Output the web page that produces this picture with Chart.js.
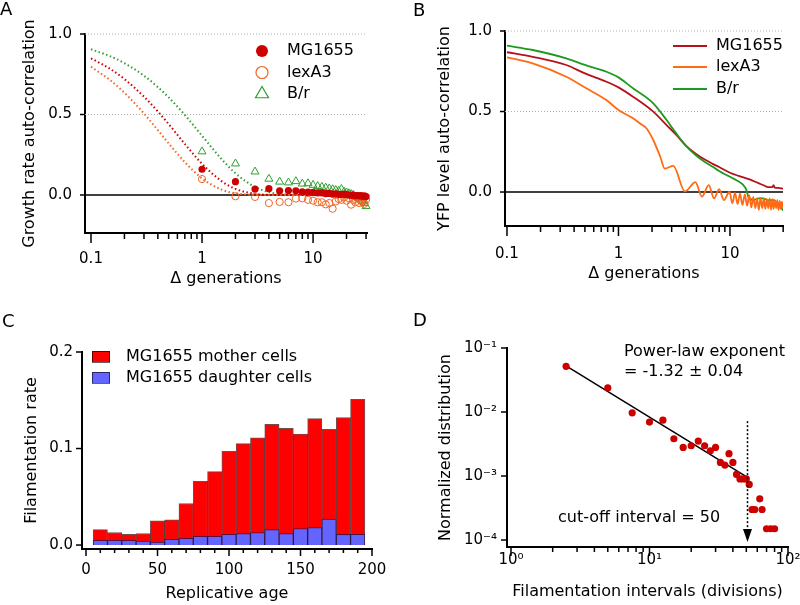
<!DOCTYPE html>
<html>
<head>
<meta charset="utf-8">
<script src="https://cdn.jsdelivr.net/npm/chart.js@4.4.1/dist/chart.umd.min.js"></script>
<style>
  html, body { margin: 0; padding: 0; background: #fff; }
  #wrap { position: relative; width: 800px; height: 605px; }
  canvas { position: absolute; }
</style>
</head>
<body>
<div id="wrap">
  <canvas id="chartA" width="400" height="300" style="left:0;top:0"></canvas>
  <canvas id="chartB" width="400" height="300" style="left:400px;top:0"></canvas>
  <canvas id="chartC" width="400" height="305" style="left:0;top:300px"></canvas>
  <canvas id="chartD" width="400" height="305" style="left:400px;top:300px"></canvas>
</div>
<script>
// PANEL A - growth rate auto-correlation (points + fitted curves)
const aGen = [1, 2, 3, 4, 5, 6, 7, 8, 9, 10, 11, 12, 13, 14, 15, 16, 17, 18, 19, 20, 21, 22, 23, 24, 25, 26, 27, 28, 29, 30];
const aMG1655 = [0.16, 0.083, 0.037, 0.039, 0.026, 0.028, 0.026, 0.02, 0.018, 0.016, 0.013, 0.013, 0.009, 0.01, 0.006, 0.007, 0.004, 0.003, 0.005, 0.002, 0.0, -0.002, 0.0, -0.004, -0.003, -0.006, -0.004, -0.008, -0.005, -0.01];
const aLexA3 = [0.099, -0.008, -0.012, -0.05, -0.043, -0.045, -0.022, -0.02, -0.03, -0.035, -0.045, -0.045, -0.058, -0.05, -0.085, -0.04, -0.025, -0.03, -0.015, -0.035, -0.02, -0.06, -0.03, -0.045, -0.02, -0.05, -0.035, -0.04, -0.055, -0.03];
const aBr = [0.27, 0.195, 0.145, 0.1, 0.082, 0.077, 0.085, 0.07, 0.072, 0.062, 0.055, 0.05, 0.045, 0.04, 0.035, 0.03, 0.025, 0.037, 0.02, 0.015, 0.01, 0.005, 0.0, -0.01, -0.015, -0.02, -0.03, -0.04, -0.05, -0.07];

const aFitGen = [0.1, 0.15, 0.2, 0.3, 0.4, 0.5, 0.7, 1, 1.5, 2, 3, 4, 5, 7, 10, 20, 30];
const aFitMG1655 = [0.849, 0.782, 0.72, 0.611, 0.519, 0.441, 0.317, 0.194, 0.086, 0.038, 0.007, 0.001, 0, 0, 0, 0, 0];
const aFitLexA3 = [0.797, 0.711, 0.635, 0.506, 0.403, 0.321, 0.204, 0.103, 0.033, 0.011, 0.001, 0, 0, 0, 0, 0, 0];
const aFitBr = [0.905, 0.861, 0.819, 0.741, 0.67, 0.607, 0.497, 0.368, 0.223, 0.135, 0.05, 0.018, 0.007, 0.001, 0, 0, 0];

// PANEL B - YFP level auto-correlation
const bGenMG1655 = [0.1, 0.17, 0.34, 0.5, 0.78, 1, 1.35, 2.05, 2.7, 3.3, 4, 5, 6, 7, 8, 10, 12, 15, 18, 20, 22, 24, 24.6, 25.2, 27, 30];
const bMG1655 = [0.868, 0.84, 0.789, 0.737, 0.685, 0.65, 0.592, 0.499, 0.416, 0.355, 0.29, 0.235, 0.2, 0.175, 0.155, 0.12, 0.1, 0.078, 0.055, 0.042, 0.03, 0.03, 0.043, 0.028, 0.026, 0.02];
const bGenLexA3 = [0.1, 0.17, 0.34, 0.515, 0.78, 1, 1.35, 1.55, 1.78, 2.05, 2.37, 2.6, 3.1, 3.95, 4.9, 5.6, 6.45, 7.2, 8.0, 8.8, 9.9, 10.5, 11.1, 11.7, 12.3, 12.95, 13.6, 14.25, 14.9, 15.55, 16.2, 16.85, 17.5, 18.15, 18.8, 19.45, 20.1, 20.75, 21.4, 22.05, 22.7, 23.35, 24.0, 24.65, 25.3, 25.95, 26.6, 27.25, 27.9, 28.55, 29.2, 30];
const bLexA3 = [0.836, 0.799, 0.716, 0.644, 0.571, 0.509, 0.458, 0.427, 0.396, 0.323, 0.219, 0.145, 0.162, 0.004, 0.062, -0.029, 0.043, -0.04, 0.018, -0.05, 0.0, -0.07, -0.005, -0.075, -0.01, -0.08, -0.015, -0.085, -0.02, -0.095, -0.03, -0.1, -0.04, -0.11, -0.035, -0.1, -0.04, -0.105, -0.045, -0.1, -0.04, -0.11, -0.045, -0.105, -0.05, -0.1, -0.05, -0.11, -0.055, -0.105, -0.06, -0.1];
const bGenBr = [0.1, 0.17, 0.34, 0.5, 0.78, 1, 1.35, 2.05, 2.7, 3.3, 4, 5, 6, 7, 8, 9, 10, 11, 12, 13, 14, 14.6, 16.2, 18, 19.8, 22, 24.6, 27, 30];
const bBr = [0.909, 0.882, 0.83, 0.789, 0.747, 0.712, 0.644, 0.551, 0.447, 0.364, 0.29, 0.225, 0.185, 0.157, 0.13, 0.11, 0.095, 0.08, 0.065, 0.048, 0.015, -0.029, -0.05, -0.04, -0.039, -0.05, -0.05, -0.075, -0.115];

// PANEL C - filamentation rate vs replicative age
const ageBins = [10, 20, 30, 40, 50, 60, 70, 80, 90, 100, 110, 120, 130, 140, 150, 160, 170, 180, 190];
const motherRate = [0.016, 0.013, 0.011, 0.012, 0.025, 0.026, 0.043, 0.066, 0.076, 0.097, 0.105, 0.111, 0.125, 0.121, 0.115, 0.131, 0.12, 0.132, 0.151];
const daughterRate = [0.005, 0.005, 0.005, 0.004, 0.003, 0.006, 0.007, 0.009, 0.009, 0.011, 0.012, 0.013, 0.016, 0.012, 0.017, 0.018, 0.027, 0.011, 0.011];

// PANEL D - filamentation intervals distribution
const intervals = [2.5, 5, 7.5, 10, 12.5, 15, 17.5, 20, 22.5, 25, 27.5, 30, 32.5, 35, 37.5, 40, 42.5, 45, 47.5, 50, 52.5, 55, 57.5, 62.5, 65, 70, 75, 80];
const intervalDist = [0.0518, 0.0238, 0.0097, 0.00695, 0.00746, 0.00382, 0.0028, 0.00297, 0.00351, 0.00297, 0.00248, 0.0028, 0.00163, 0.00148, 0.00223, 0.00163, 0.00106, 0.0009, 0.0009, 0.0009, 0.00074, 0.0003, 0.0003, 0.00044, 0.0003, 0.00015, 0.00015, 0.00015];
const fitIntervals = [2.5, 50];
const fitDist = [0.0525, 0.00098];
const cutoffX = 51;
const cutoffArrow = [0.0072, 0.000093];

// TICKS
const genMajors = [0.1, 1, 10];
const genLabels = ['0.1', '1', '10'];
const genMinors = [0.2, 0.3, 0.4, 0.5, 0.6, 0.7, 0.8, 0.9, 2, 3, 4, 5, 6, 7, 8, 9, 20, 30];
const acMajors = [0, 0.5, 1];
const acLabels = ['0.0', '0.5', '1.0'];
const ageMajors = [0, 50, 100, 150, 200];
const ageLabels = ['0', '50', '100', '150', '200'];
const ageMinors = [10, 20, 30, 40, 60, 70, 80, 90, 110, 120, 130, 140, 160, 170, 180, 190];
const rateMajors = [0, 0.1, 0.2];
const rateLabels = ['0.0', '0.1', '0.2'];
const intMajors = [1, 10, 100];
const intLabels = ['10⁰', '10¹', '10²'];
const intMinors = [2, 3, 4, 5, 6, 7, 8, 9, 20, 30, 40, 50, 60, 70, 80, 90];
const distMajors = [0.0001, 0.001, 0.01, 0.1];
const distLabels = ['10⁻⁴', '10⁻³', '10⁻²', '10⁻¹'];

// STYLE
const FONT = '"DejaVu Sans", sans-serif';
const RED = '#cc0000';
const ORANGE = '#f26522';
const GREEN = '#2f9f2f';

Chart.defaults.font.family = FONT;
Chart.defaults.font.size = 15;
Chart.defaults.color = '#000';
Chart.defaults.animation = false;
Chart.defaults.plugins.legend.display = false;
Chart.defaults.plugins.tooltip.enabled = false;

const xy = (xs, ys) => xs.map((x, i) => ({ x, y: ys[i] }));

function axis(o) {
  const all = o.majors.concat(o.minors || []).sort((a, b) => a - b);
  return {
    type: o.type,
    min: o.min,
    max: o.max,
    bounds: 'data',
    offset: false,
    grid: { display: false, drawTicks: false, offset: false },
    border: { display: true, color: '#000', width: 2 },
    afterBuildTicks: (s) => {
      s.ticks = all.map((v) => ({ value: v }));
    },
    afterFit: (s) => {
      if (o.width) s.width = o.width;
      if (o.height) s.height = o.height;
      s.paddingLeft = 0;
      s.paddingRight = 0;
      s.paddingTop = 0;
      s.paddingBottom = 0;
    },
    ticks: {
      autoSkip: false,
      maxRotation: 0,
      padding: o.pad,
      callback: (v) => {
        const i = o.majors.indexOf(v);
        return i < 0 ? '' : o.labels[i];
      },
    },
    title: { display: true, text: o.title, font: { size: 16 }, padding: o.titlePad },
  };
}

function line(ctx, x1, y1, x2, y2) {
  ctx.beginPath();
  ctx.moveTo(x1, y1);
  ctx.lineTo(x2, y2);
  ctx.stroke();
}

function marker(ctx, kind, color, x, y, r, filled) {
  ctx.save();
  ctx.strokeStyle = color;
  ctx.fillStyle = color;
  ctx.lineWidth = 1.2;
  ctx.beginPath();
  if (kind === 'triangle') {
    ctx.moveTo(x, y - r);
    ctx.lineTo(x + r * 0.866, y + r * 0.5);
    ctx.lineTo(x - r * 0.866, y + r * 0.5);
    ctx.closePath();
  } else {
    ctx.arc(x, y, r, 0, Math.PI * 2);
  }
  if (filled) ctx.fill();
  else ctx.stroke();
  ctx.restore();
}

// grid lines, tick marks, panel letter, legend, notes
function decor(cfg) {
  return {
    id: 'decor',
    beforeDatasetsDraw(chart) {
      const { ctx, chartArea: a, scales } = chart;
      (cfg.hlines || []).forEach((h) => {
        const y = scales.y.getPixelForValue(h.value);
        ctx.save();
        ctx.strokeStyle = h.color;
        ctx.lineWidth = h.width;
        ctx.setLineDash(h.dash || []);
        line(ctx, a.left, y, a.right, y);
        ctx.restore();
      });
    },
    afterDraw(chart) {
      const { ctx, chartArea: a, scales } = chart;
      ctx.save();
      ctx.strokeStyle = '#000';
      ctx.lineWidth = 1.5;
      cfg.xMajors.forEach((v) => {
        const x = scales.x.getPixelForValue(v);
        line(ctx, x, a.bottom, x, a.bottom + cfg.xLen[0]);
      });
      (cfg.xMinors || []).forEach((v) => {
        const x = scales.x.getPixelForValue(v);
        line(ctx, x, a.bottom, x, a.bottom + cfg.xLen[1]);
      });
      cfg.yMajors.forEach((v) => {
        const y = scales.y.getPixelForValue(v);
        line(ctx, a.left, y, a.left - cfg.yLen, y);
      });

      ctx.fillStyle = '#000';
      ctx.textBaseline = 'middle';
      ctx.textAlign = 'left';
      ctx.font = '18px ' + FONT;
      ctx.fillText(cfg.letter[0], cfg.letter[1], cfg.letter[2]);

      ctx.font = '16px ' + FONT;
      (cfg.legend || []).forEach((it) => {
        if (it.kind === 'line') {
          ctx.save();
          ctx.strokeStyle = it.color;
          ctx.lineWidth = 2;
          line(ctx, it.x, it.y, it.x + 34, it.y);
          ctx.restore();
        } else if (it.kind === 'box') {
          ctx.fillStyle = it.color;
          ctx.fillRect(it.x, it.y - 5.5, 18, 11);
          ctx.strokeStyle = 'rgba(0,0,0,0.6)';
          ctx.lineWidth = 1;
          ctx.strokeRect(it.x + 0.5, it.y - 5, 17, 11);
        } else {
          marker(ctx, it.kind, it.color, it.x, it.y, it.r, it.filled);
        }
        ctx.fillStyle = '#000';
        ctx.fillText(it.label, it.tx, it.y);
      });

      (cfg.notes || []).forEach((n) => ctx.fillText(n[0], n[1], n[2]));

      if (cfg.arrow) {
        const x = scales.x.getPixelForValue(cfg.arrow.x);
        const y1 = scales.y.getPixelForValue(cfg.arrow.from);
        const y2 = scales.y.getPixelForValue(cfg.arrow.to);
        ctx.lineWidth = 1.5;
        ctx.setLineDash([2, 2]);
        line(ctx, x, y1, x, y2 - 12);
        ctx.setLineDash([]);
        ctx.beginPath();
        ctx.moveTo(x, y2);
        ctx.lineTo(x - 4.5, y2 - 13);
        ctx.lineTo(x + 4.5, y2 - 13);
        ctx.closePath();
        ctx.fill();
      }
      ctx.restore();
    },
  };
}

const acGrid = [
  { value: 1, color: '#b0b0b0', width: 1, dash: [1, 2] },
  { value: 0.5, color: '#b0b0b0', width: 1, dash: [1, 2] },
  { value: 0, color: '#000', width: 1.5 },
];

// GRAFICO A
new Chart(document.getElementById('chartA'), {
  type: 'scatter',
  data: {
    datasets: [
      { data: xy(aGen, aMG1655), pointStyle: 'circle', pointRadius: 3.6, backgroundColor: RED, borderColor: RED, borderWidth: 0, clip: false },
      { data: xy(aGen, aLexA3), pointStyle: 'circle', pointRadius: 3.6, backgroundColor: 'rgba(0,0,0,0)', borderColor: ORANGE, borderWidth: 1, clip: false },
      { data: xy(aGen, aBr), pointStyle: 'triangle', pointRadius: 4.6, backgroundColor: 'rgba(0,0,0,0)', borderColor: GREEN, borderWidth: 1, clip: false },
      { data: xy(aFitGen, aFitMG1655), showLine: true, pointRadius: 0, borderColor: RED, borderWidth: 2, borderDash: [1.5, 2.5], cubicInterpolationMode: 'monotone' },
      { data: xy(aFitGen, aFitLexA3), showLine: true, pointRadius: 0, borderColor: ORANGE, borderWidth: 2, borderDash: [1.5, 2.5], cubicInterpolationMode: 'monotone' },
      { data: xy(aFitGen, aFitBr), showLine: true, pointRadius: 0, borderColor: GREEN, borderWidth: 2, borderDash: [1.5, 2.5], cubicInterpolationMode: 'monotone' },
    ],
  },
  options: {
    responsive: false,
    devicePixelRatio: 1,
    layout: { padding: { left: 0, top: 34, right: 33, bottom: 0 } },
    scales: {
      x: axis({ type: 'logarithmic', min: 0.0883, max: 30.6, majors: genMajors, labels: genLabels, minors: genMinors, height: 67, pad: 17, title: 'Δ generations', titlePad: { top: 0, bottom: 12 } }),
      y: axis({ type: 'linear', min: -0.236, max: 1, majors: acMajors, labels: acLabels, width: 85, pad: 13, title: 'Growth rate auto-correlation', titlePad: { top: 20, bottom: 0 } }),
    },
  },
  plugins: [decor({
    hlines: acGrid,
    xMajors: genMajors, xMinors: genMinors, xLen: [10, 6],
    yMajors: acMajors, yLen: 5,
    letter: ['A', 0, 10],
    legend: [
      { kind: 'circle', filled: true, color: RED, r: 6, x: 262, tx: 287, y: 51, label: 'MG1655' },
      { kind: 'circle', filled: false, color: ORANGE, r: 6, x: 262, tx: 287, y: 72.5, label: 'lexA3' },
      { kind: 'triangle', filled: false, color: GREEN, r: 7.5, x: 262, tx: 287, y: 94, label: 'B/r' },
    ],
  })],
});

// GRAFICO B
new Chart(document.getElementById('chartB'), {
  type: 'scatter',
  data: {
    datasets: [
      { data: xy(bGenMG1655, bMG1655), showLine: true, pointRadius: 0, borderColor: '#b5121b', borderWidth: 1.8, cubicInterpolationMode: 'monotone', order: 2 },
      { data: xy(bGenLexA3, bLexA3), showLine: true, pointRadius: 0, borderColor: '#ff6a13', borderWidth: 1.8, cubicInterpolationMode: 'monotone', order: 0 },
      { data: xy(bGenBr, bBr), showLine: true, pointRadius: 0, borderColor: '#1e9a1e', borderWidth: 1.8, cubicInterpolationMode: 'monotone', order: 1 },
    ],
  },
  options: {
    responsive: false,
    devicePixelRatio: 1,
    layout: { padding: { left: 0, top: 31, right: 17, bottom: 0 } },
    scales: {
      x: axis({ type: 'logarithmic', min: 0.096, max: 29.9, majors: genMajors, labels: genLabels, minors: genMinors, height: 74, pad: 19, title: 'Δ generations', titlePad: { top: 0, bottom: 17 } }),
      y: axis({ type: 'linear', min: -0.211, max: 1, majors: acMajors, labels: acLabels, width: 105, pad: 13, title: 'YFP level auto-correlation', titlePad: { top: 35, bottom: 0 } }),
    },
  },
  plugins: [decor({
    hlines: acGrid,
    xMajors: genMajors, xMinors: genMinors, xLen: [10, 6],
    yMajors: acMajors, yLen: 5,
    letter: ['B', 13, 11],
    legend: [
      { kind: 'line', color: '#b5121b', x: 273, tx: 316, y: 46, label: 'MG1655' },
      { kind: 'line', color: '#ff6a13', x: 273, tx: 316, y: 67, label: 'lexA3' },
      { kind: 'line', color: '#1e9a1e', x: 273, tx: 316, y: 89, label: 'B/r' },
    ],
  })],
});

// GRAFICO C
new Chart(document.getElementById('chartC'), {
  type: 'bar',
  data: {
    datasets: [
      { data: xy(ageBins, motherRate), backgroundColor: '#ff0000', borderColor: 'rgba(60,0,0,0.7)', borderWidth: 1, grouped: false, barPercentage: 1, categoryPercentage: 1, order: 1 },
      { data: xy(ageBins, daughterRate), backgroundColor: '#6464ff', borderColor: 'rgba(20,20,80,0.7)', borderWidth: 1, grouped: false, barPercentage: 1, categoryPercentage: 1, order: 0 },
    ],
  },
  options: {
    responsive: false,
    devicePixelRatio: 1,
    layout: { padding: { left: 0, top: 52, right: 28, bottom: 0 } },
    scales: {
      x: axis({ type: 'linear', min: -2.8, max: 200, majors: ageMajors, labels: ageLabels, minors: ageMinors, height: 56, pad: 12, title: 'Replicative age', titlePad: { top: 0, bottom: 2 } }),
      y: axis({ type: 'linear', min: -0.0041, max: 0.2, majors: rateMajors, labels: rateLabels, width: 82, pad: 9, title: 'Filamentation rate', titlePad: { top: 22, bottom: 0 } }),
    },
  },
  plugins: [decor({
    xMajors: ageMajors, xMinors: ageMinors, xLen: [7, 4],
    yMajors: rateMajors, yLen: 6,
    letter: ['C', 2, 22],
    legend: [
      { kind: 'box', color: '#ff0000', x: 92, tx: 126, y: 56.5, label: 'MG1655 mother cells' },
      { kind: 'box', color: '#6464ff', x: 92, tx: 126, y: 77.5, label: 'MG1655 daughter cells' },
    ],
  })],
});

// GRAFICO D
new Chart(document.getElementById('chartD'), {
  type: 'scatter',
  data: {
    datasets: [
      { data: xy(fitIntervals, fitDist), showLine: true, pointRadius: 0, borderColor: '#000', borderWidth: 1.5, order: 1 },
      { data: xy(intervals, intervalDist), pointRadius: 3.6, backgroundColor: RED, borderColor: RED, borderWidth: 0, clip: false, order: 0 },
    ],
  },
  options: {
    responsive: false,
    devicePixelRatio: 1,
    layout: { padding: { left: 0, top: 48, right: 12, bottom: 0 } },
    scales: {
      x: axis({ type: 'logarithmic', min: 0.936, max: 100, majors: intMajors, labels: intLabels, minors: intMinors, height: 58, pad: 4, title: 'Filamentation intervals (divisions)', titlePad: { top: 0, bottom: 4 } }),
      y: axis({ type: 'logarithmic', min: 0.0000778, max: 0.1, majors: distMajors, labels: distLabels, width: 107, pad: 10, title: 'Normalized distribution', titlePad: { top: 36, bottom: 0 } }),
    },
  },
  plugins: [decor({
    xMajors: intMajors, xMinors: intMinors, xLen: [9, 5],
    yMajors: distMajors, yLen: 6,
    letter: ['D', 13, 21],
    notes: [
      ['Power-law exponent', 224, 52],
      ['= -1.32 ± 0.04', 224, 72],
      ['cut-off interval = 50', 158, 218],
    ],
    arrow: { x: cutoffX, from: cutoffArrow[0], to: cutoffArrow[1] },
  })],
});
</script>
</body>
</html>
